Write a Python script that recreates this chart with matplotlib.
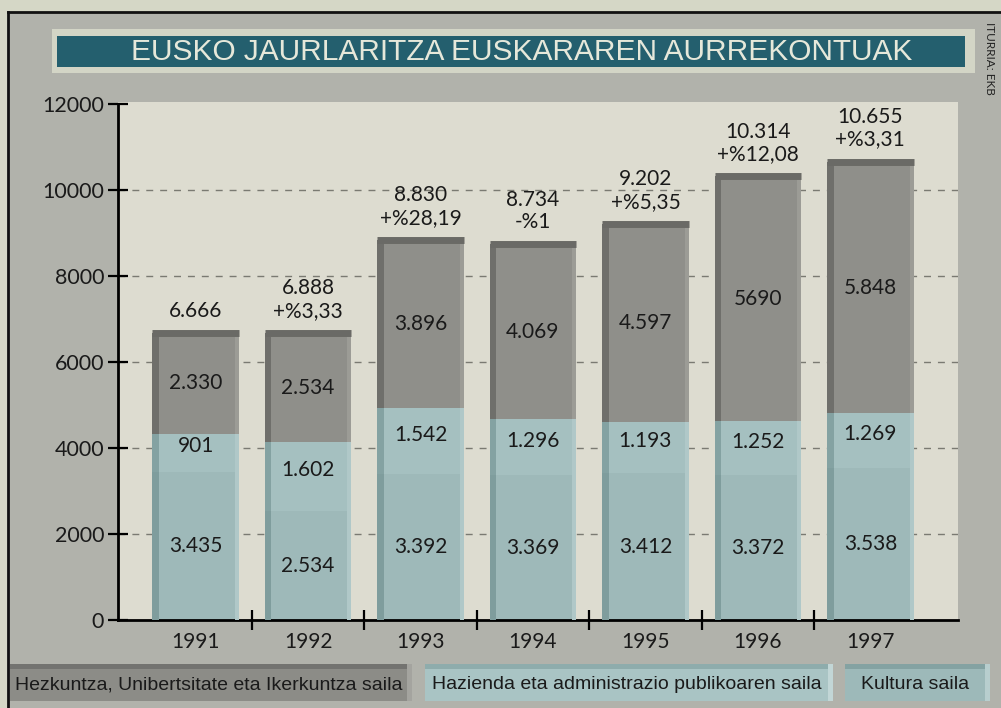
import matplotlib
matplotlib.use("Agg")
import matplotlib.pyplot as plt
from matplotlib.patches import Rectangle
from matplotlib import font_manager

years = ["1991", "1992", "1993", "1994", "1995", "1996", "1997"]
kultura = [3435, 2534, 3392, 3369, 3412, 3372, 3538]
hazienda = [901, 1602, 1542, 1296, 1193, 1252, 1269]
hezkuntza = [2330, 2534, 3896, 4069, 4597, 5690, 5848]
hezkuntza_txt = ["2.330", "2.534", "3.896", "4.069", "4.597", "5690", "5.848"]
totals_txt = ["6.666", "6.888", "8.830", "8.734", "9.202", "10.314", "10.655"]
change_txt = ["", "+%3,33", "+%28,19", "-%1", "+%5,35", "+%12,08", "+%3,31"]
yticks = [0, 2000, 4000, 6000, 8000, 10000, 12000]
legend_labels = ["Hezkuntza, Unibertsitate eta Ikerkuntza saila",
                 "Hazienda eta administrazio publikoaren saila",
                 "Kultura saila"]
title = "EUSKO JAURLARITZA EUSKARAREN AURREKONTUAK"
source = "ITURRIA: EKB"

names = {f.name for f in font_manager.fontManager.ttflist}
NARROW = "Liberation Sans Narrow" if "Liberation Sans Narrow" in names else "Liberation Sans"
MAIN = "Lato" if "Lato" in names else "DejaVu Sans"
plt.rcParams["font.family"] = [MAIN, "DejaVu Sans"]

W, H = 1001, 708
fig = plt.figure(figsize=(W / 100, H / 100), dpi=100)
fig.patch.set_facecolor("#d5d7c6")

def fx(px):
    return px / W

def fy(py):
    return 1 - py / H

# gray panel + frame lines
fig.patches.append(Rectangle((fx(8), 0), 1 - fx(8), fy(12), transform=fig.transFigure,
                             facecolor="#b1b2ab", edgecolor="none", zorder=0))
fig.add_artist(plt.Line2D([fx(8), 1], [fy(12), fy(12)], color="#111111", lw=2, transform=fig.transFigure))
fig.add_artist(plt.Line2D([fx(8), fx(8)], [0, fy(12)], color="#111111", lw=2, transform=fig.transFigure))

# title banner
fig.patches.append(Rectangle((fx(52), fy(73)), fx(975 - 52), (73 - 29) / H, transform=fig.transFigure,
                             facecolor="#d3d5c6", edgecolor="none", zorder=1))
fig.patches.append(Rectangle((fx(57), fy(67)), fx(965 - 57), (67 - 36) / H, transform=fig.transFigure,
                             facecolor="#245f6e", edgecolor="none", zorder=2))
fig.text(fx(522), fy(52), title, color="#e6e8da", fontsize=21.5, family=NARROW,
         ha="center", va="center", zorder=3)
fig.text(fx(990), fy(58), source, color="#222222", fontsize=8.5, rotation=270,
         ha="center", va="center", family=MAIN)

# axes
ax = fig.add_axes([fx(118), fy(620), fx(958 - 118), (620 - 102) / H])
ax.set_zorder(5)
ax.set_facecolor("#dddcd0")
ax.set_ylim(0, 12000 * (620 - 102) / (620 - 104))
ax.set_xlim(-0.69, 6.78)
for s in ["top", "right"]:
    ax.spines[s].set_visible(False)
ax.spines["left"].set_linewidth(2)
ax.spines["bottom"].set_linewidth(2)
ax.spines["left"].set_bounds(0, 12000)
ax.set_yticks(yticks)
ax.set_yticklabels([str(v) for v in yticks], fontsize=15.5, color="#1a1a1a")
ax.tick_params(axis="y", direction="inout", length=14, width=1.6, pad=3)
ax.set_xticks([i + 0.5 for i in range(len(years) - 1)])
ax.set_xticklabels([])
ax.tick_params(axis="x", direction="inout", length=14, width=1.6)

for v in yticks[1:-1]:
    ax.axhline(v, color="#7a7a72", lw=1, ls=(0, (5, 5)), zorder=1)

x = list(range(len(years)))
bw = 0.77
sw = 0.06
c_kul, c_haz, c_hez = "#9eb9b9", "#a5c0c0", "#8f8f8a"
d_kul, d_haz, d_hez = "#7f9d9d", "#84a2a2", "#6f6f6b"

bottoms2 = [a + b for a, b in zip(kultura, hazienda)]
totals = [a + b for a, b in zip(bottoms2, hezkuntza)]

ax.bar(x, kultura, bw, color=c_kul, zorder=2)
ax.bar(x, hazienda, bw, bottom=kultura, color=c_haz, zorder=2)
ax.bar(x, hezkuntza, bw, bottom=bottoms2, color=c_hez, zorder=2)
# 3D edges: darker left strip, lighter right strip, dark top
xl = [i - bw / 2 for i in x]
ax.bar(xl, kultura, sw, align="edge", color=d_kul, zorder=3)
ax.bar(xl, hazienda, sw, bottom=kultura, align="edge", color=d_haz, zorder=3)
ax.bar(xl, hezkuntza, sw, bottom=bottoms2, align="edge", color=d_hez, zorder=3)
xr = [i + bw / 2 - 0.035 for i in x]
ax.bar(xr, bottoms2, 0.035, align="edge", color="#b0c8c8", zorder=3)
ax.bar(xr, hezkuntza, 0.035, bottom=bottoms2, align="edge", color="#9c9c96", zorder=3)
ax.hlines(totals, [i - bw / 2 for i in x], [i + bw / 2 for i in x], color="#6a6a66", lw=5, zorder=4)

lab = dict(ha="center", va="center", fontsize=15, color="#1a1a1a", zorder=5)
for i in x:
    ax.text(i, kultura[i] / 2, f"{kultura[i]:,}".replace(",", "."), **lab)
    ax.text(i, kultura[i] + hazienda[i] / 2 + 150, f"{hazienda[i]:,}".replace(",", "."), **lab)
    ax.text(i, bottoms2[i] + hezkuntza[i] / 2, hezkuntza_txt[i], **lab)
    txt = totals_txt[i] if not change_txt[i] else totals_txt[i] + "\n" + change_txt[i]
    ax.annotate(txt, (i, totals[i]), xytext=(0, 9), textcoords="offset points",
                ha="center", va="bottom", fontsize=15, color="#1a1a1a",
                linespacing=1.15, zorder=5, annotation_clip=False)
    ax.annotate(years[i], (i, 0), xytext=(0, -16), textcoords="offset points",
                ha="center", va="center", fontsize=15, color="#1a1a1a", annotation_clip=False)

# legend boxes
boxes = [(10, 412, "#8c8c87", "#737370", "#a4a49f"),
         (425, 833, "#a9c4c4", "#8eacac", "#c2d6d6"),
         (845, 990, "#9db9b9", "#84a2a2", "#b8cece")]
by0, by1 = 664, 701
for (x0, x1, fc, dk, lt), label in zip(boxes, legend_labels):
    fig.patches.append(Rectangle((fx(x0), fy(by1)), fx(x1 - x0), (by1 - by0) / H,
                                 transform=fig.transFigure, facecolor=fc, edgecolor="none", zorder=2))
    fig.patches.append(Rectangle((fx(x0), fy(by0 + 5)), fx(x1 - x0), 5 / H,
                                 transform=fig.transFigure, facecolor=dk, edgecolor="none", zorder=3))
    fig.patches.append(Rectangle((fx(x1 - 5), fy(by1)), fx(5), (by1 - by0) / H,
                                 transform=fig.transFigure, facecolor=lt, edgecolor="none", zorder=3))
    fig.text(fx((x0 + x1) / 2 - 2), fy((by0 + by1) / 2 + 2), label, family=NARROW,
             fontsize=14, color="#1a1a1a", ha="center", va="center", zorder=4)

fig.savefig("out.png", dpi=100, facecolor=fig.get_facecolor())
